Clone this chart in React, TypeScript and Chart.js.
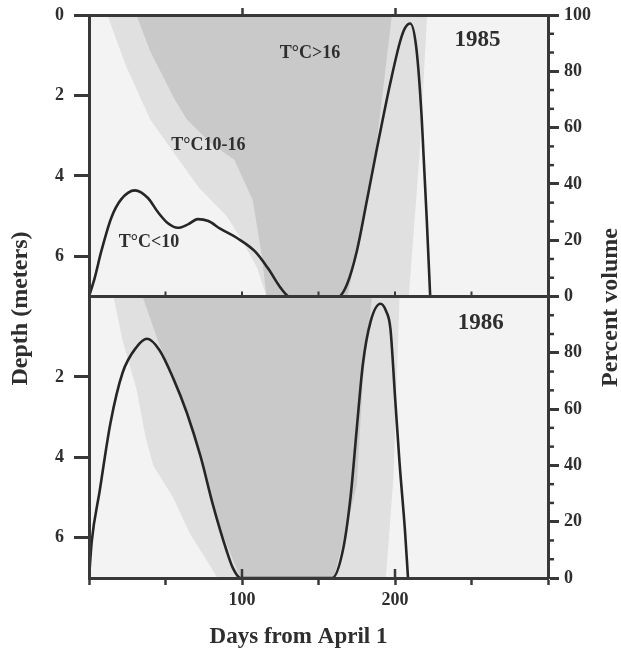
import React, { useEffect, useRef } from "react";
import { Chart, registerables } from "chart.js";

Chart.register(...registerables);

// ---------- axes ----------
const X_MIN = 0;
const X_MAX = 300;
const X_TICK_STEP = 50;
const X_LABELED_DAYS = [100, 200];
const X_TOP_TICK_DAYS = [100, 200];
const X_DIVIDER_TICK_DAYS = [50, 100, 150, 200, 250];
const X_BOTTOM_INNER_TICK_DAYS = [100, 200];
const DEPTH_MIN = 0;
const DEPTH_MAX = 7;
const DEPTH_TICKS_TOP = [0, 2, 4, 6];
const DEPTH_TICKS_BOTTOM = [2, 4, 6];
const PCT_MIN = 0;
const PCT_MAX = 100;
const PCT_MAJOR_STEP = 20;
const PCT_MINOR_PER_MAJOR = 3;
const PCT_HIDDEN_BOTTOM = [100];

// ---------- percent volume curves ----------
const days1985 = [0, 3.7, 8, 14.6, 21, 30, 38.5, 45, 51.6, 58, 65, 71, 78, 86, 97, 108.5, 117, 125.5, 131,
  163, 168.6, 175, 181.6, 188, 197, 203.3, 206.5, 210, 214, 217.4, 218.5, 220.7, 223];
const pct1985 = [0, 6.5, 16, 28, 34.5, 37.7, 35, 30, 26, 24.4, 25.7, 27.5, 26.8, 24, 20.7, 16, 10, 2.9, 0,
  0, 4.3, 16, 34, 52, 76, 90.5, 95.3, 97, 88, 64, 52, 28, 0];

const days1986 = [0, 1.8, 7, 14, 22, 31, 38, 46, 55, 64, 73, 81, 90, 94, 99,
  159, 166, 171, 175, 179, 184, 190.5, 194, 197, 200, 203, 206.5, 208.5];
const pct1986 = [0, 13, 31, 55, 73, 82, 85, 81, 71, 58.6, 43, 26, 9.6, 3.6, 0,
  0, 10, 29, 53, 76, 91, 97.4, 95, 88.6, 64.6, 40.7, 17, 0];

// ---------- temperature zone boundaries (day at given depth) ----------
// 1985
const cool85Depth = [0, 1.25, 2.6, 3.4, 4.3, 5.0, 5.6, 6.3, 7];
const cool85Day = [12, 24, 40, 55, 72, 90, 100, 110, 116];
const warm85Depth = [0, 0.9, 2.1, 2.6, 3.2, 3.6, 4.6, 6, 7];
const warm85Day = [31, 40, 56, 64, 80, 95, 107, 113, 116];
const warmEnd85Depth = [0, 3.5, 7];
const warmEnd85Day = [198, 187, 169];
const coolEnd85Depth = [0, 3.5, 7];
const coolEnd85Day = [221, 216, 209];
// 1986
const cool86Depth = [0, 1.1, 2.3, 3.5, 4.2, 5.0, 5.9, 6.5, 7];
const cool86Day = [16, 22, 31, 37, 42, 55, 66, 76, 84];
const warm86Depth = [0, 1.2, 2.3, 3.5, 4.0, 5.6, 7];
const warm86Day = [35, 46, 59, 68, 73, 84, 99];
const warmEnd86Depth = [0, 2.1, 4.7, 7];
const warmEnd86Day = [185, 179, 175, 160];
const coolEnd86Depth = [0, 4.5, 7];
const coolEnd86Day = [203, 199, 194];

// ---------- text labels ----------
const zoneLabelText = ["T°C>16", "T°C10-16", "T°C<10"];
const zoneLabelDay = [144.4, 78, 39.2];
const zoneLabelDepth = [0.95, 3.24, 5.66];
const yearLabelText = ["1985", "1986"];
const yearLabelDay = [254, 256];
const yearLabelDepth = [0.62, 0.65];

// ---------- styles ----------
const FRAME = "#383838";
const CURVE = "#262626";
const TEXT = "#2e2e2e";
const BASE = "#f3f3f3";
const LIGHT = "#e0e0e0";
const DARK = "#c9c9c9";
const SERIF = "'Liberation Serif', 'Times New Roman', serif";

const pts = (xs: number[], ys: number[]) => xs.map((x, i) => ({ x, y: ys[i] }));
const polygon = (leftDay: number[], leftDepth: number[], rightDay: number[], rightDepth: number[]) =>
  pts(leftDay, leftDepth).concat(pts(rightDay, rightDepth).reverse());

const curveStyle = {
  borderColor: CURVE,
  borderWidth: 2.6,
  pointRadius: 0,
  pointHoverRadius: 0,
  fill: false,
  cubicInterpolationMode: "monotone" as const,
  xAxisID: "x",
};
const zoneStyle = (color: string) => ({
  backgroundColor: color,
  borderColor: "rgba(0,0,0,0)",
  borderWidth: 1,
  pointRadius: 0,
  pointHoverRadius: 0,
  fill: "shape",
  tension: 0,
  xAxisID: "x",
});

const tickFont = { family: SERIF, size: 18, weight: "bold" as const };

const decorPlugin = {
  id: "decor",
  beforeDatasetsDraw(chart: any) {
    const { ctx, chartArea: a } = chart;
    ctx.save();
    ctx.fillStyle = BASE;
    ctx.fillRect(a.left, a.top, a.right - a.left, a.bottom - a.top);
    ctx.restore();
  },
  afterDraw(chart: any) {
    const { ctx } = chart;
    const s = chart.scales;
    ctx.save();
    ctx.strokeStyle = FRAME;
    ctx.lineCap = "butt";
    ctx.lineWidth = 2.5;
    // minor ticks on percent axes
    for (const id of ["yPT", "yPB"]) {
      const sc = s[id];
      const n = ((PCT_MAX - PCT_MIN) / PCT_MAJOR_STEP) * PCT_MINOR_PER_MAJOR;
      for (let k = 1; k < n; k++) {
        if (k % PCT_MINOR_PER_MAJOR === 0) continue;
        const y = sc.getPixelForValue(PCT_MIN + (k * PCT_MAJOR_STEP) / PCT_MINOR_PER_MAJOR);
        ctx.beginPath();
        ctx.moveTo(sc.left, y);
        ctx.lineTo(sc.left + 6, y);
        ctx.stroke();
      }
    }
    // panel divider line
    const xs = s.x;
    const yDT = s.yDT;
    ctx.lineWidth = 3;
    ctx.beginPath();
    ctx.moveTo(xs.left, yDT.bottom);
    ctx.lineTo(xs.right, yDT.bottom);
    ctx.stroke();
    // ticks on the panel divider and inner bottom ticks
    ctx.lineWidth = 2;
    for (const d of X_DIVIDER_TICK_DAYS) {
      const px = xs.getPixelForValue(d);
      ctx.beginPath();
      ctx.moveTo(px, yDT.bottom);
      ctx.lineTo(px, yDT.bottom - 5);
      ctx.stroke();
    }
    ctx.lineWidth = 2.5;
    for (const d of X_BOTTOM_INNER_TICK_DAYS) {
      const px = xs.getPixelForValue(d);
      ctx.beginPath();
      ctx.moveTo(px, xs.top);
      ctx.lineTo(px, xs.top - 9);
      ctx.stroke();
    }
    // zone labels (top panel)
    ctx.fillStyle = TEXT;
    ctx.textAlign = "center";
    ctx.textBaseline = "middle";
    ctx.font = `bold 18px ${SERIF}`;
    zoneLabelText.forEach((t, i) => {
      ctx.fillText(t, xs.getPixelForValue(zoneLabelDay[i]), yDT.getPixelForValue(zoneLabelDepth[i]));
    });
    // year labels
    ctx.font = `bold 23px ${SERIF}`;
    const panels = [s.yDT, s.yDB];
    yearLabelText.forEach((t, i) => {
      ctx.fillText(t, xs.getPixelForValue(yearLabelDay[i]), panels[i].getPixelForValue(yearLabelDepth[i]));
    });
    // axis titles
    const a = chart.chartArea;
    const midY = (a.top + a.bottom) / 2;
    ctx.font = `bold 24px ${SERIF}`;
    ctx.save();
    ctx.translate(21, midY + 12);
    ctx.rotate(-Math.PI / 2);
    ctx.fillText("Depth (meters)", 0, 0);
    ctx.restore();
    ctx.save();
    ctx.translate(611, midY + 11);
    ctx.rotate(-Math.PI / 2);
    ctx.fillText("Percent volume", 0, 0);
    ctx.restore();
    ctx.font = `bold 23px ${SERIF}`;
    ctx.fillText("Days from April 1", (a.left + a.right) / 2 - 20, 637);
    ctx.restore();
  },
};

const noPadV = (w: number) => (sc: any) => {
  sc.width = w;
  sc.paddingTop = 0;
  sc.paddingBottom = 0;
};
const noPadH = (h: number) => (sc: any) => {
  sc.height = h;
  sc.paddingLeft = 0;
  sc.paddingRight = 0;
};

export default function App() {
  const ref = useRef<HTMLCanvasElement>(null);
  useEffect(() => {
    const border = { display: true, color: FRAME, width: 3, z: 1 };
    const chart = new Chart(ref.current as HTMLCanvasElement, {
      type: "line",
      data: {
        datasets: [
          { label: "1985 percent volume", data: pts(days1985, pct1985), yAxisID: "yPT", order: 0, ...curveStyle } as any,
          { label: "1986 percent volume", data: pts(days1986, pct1986), yAxisID: "yPB", order: 0, ...curveStyle } as any,
          { label: "1985 T>16", data: polygon(warm85Day, warm85Depth, warmEnd85Day, warmEnd85Depth), yAxisID: "yDT", order: 1, ...zoneStyle(DARK) } as any,
          { label: "1985 T10-16", data: polygon(cool85Day, cool85Depth, coolEnd85Day, coolEnd85Depth), yAxisID: "yDT", order: 2, ...zoneStyle(LIGHT) } as any,
          { label: "1986 T>16", data: polygon(warm86Day, warm86Depth, warmEnd86Day, warmEnd86Depth), yAxisID: "yDB", order: 1, ...zoneStyle(DARK) } as any,
          { label: "1986 T10-16", data: polygon(cool86Day, cool86Depth, coolEnd86Day, coolEnd86Depth), yAxisID: "yDB", order: 2, ...zoneStyle(LIGHT) } as any,
        ],
      },
      options: {
        responsive: false,
        animation: false,
        events: [],
        layout: { padding: 0 },
        plugins: { legend: { display: false }, tooltip: { enabled: false }, title: { display: false } },
        scales: {
          x: {
            type: "linear",
            position: "bottom",
            min: X_MIN,
            max: X_MAX,
            afterFit: noPadH(73),
            border,
            grid: { drawOnChartArea: false, drawTicks: true, tickLength: 7, tickWidth: 2.5, tickColor: FRAME, z: 1 },
            ticks: {
              stepSize: X_TICK_STEP,
              autoSkip: false,
              maxRotation: 0,
              padding: 5,
              color: TEXT,
              font: tickFont,
              callback: (v: any) => (X_LABELED_DAYS.includes(Number(v)) ? String(v) : ""),
            },
          },
          xTop: {
            type: "linear",
            position: "top",
            min: X_MIN,
            max: X_MAX,
            afterBuildTicks: (sc: any) => { sc.ticks = X_TOP_TICK_DAYS.map((v) => ({ value: v })); },
            afterFit: noPadH(15),
            border,
            grid: { drawOnChartArea: false, drawTicks: true, tickLength: 7, tickWidth: 2.5, tickColor: FRAME, z: 1 },
            ticks: { display: false },
          },
          yDT: {
            type: "linear",
            position: "left",
            stack: "depth",
            stackWeight: 1,
            weight: 1,
            reverse: true,
            min: DEPTH_MIN,
            max: DEPTH_MAX,
            afterBuildTicks: (sc: any) => { sc.ticks = DEPTH_TICKS_TOP.map((v) => ({ value: v })); },
            afterFit: noPadV(89),
            border,
            grid: { drawOnChartArea: false, drawTicks: true, tickLength: 15, tickWidth: 3, tickColor: FRAME, z: 1 },
            ticks: { padding: 10, color: TEXT, font: tickFont },
          },
          yDB: {
            type: "linear",
            position: "left",
            stack: "depth",
            stackWeight: 1,
            weight: 0,
            reverse: true,
            min: DEPTH_MIN,
            max: DEPTH_MAX,
            afterBuildTicks: (sc: any) => { sc.ticks = DEPTH_TICKS_BOTTOM.map((v) => ({ value: v })); },
            afterFit: noPadV(89),
            border,
            grid: { drawOnChartArea: false, drawTicks: true, tickLength: 15, tickWidth: 3, tickColor: FRAME, z: 1 },
            ticks: { padding: 10, color: TEXT, font: tickFont },
          },
          yPT: {
            type: "linear",
            position: "right",
            stack: "pct",
            stackWeight: 1,
            weight: 0,
            min: PCT_MIN,
            max: PCT_MAX,
            afterFit: noPadV(73),
            border,
            grid: { drawOnChartArea: false, drawTicks: true, tickLength: 11, tickWidth: 3, tickColor: FRAME, z: 1 },
            ticks: { stepSize: PCT_MAJOR_STEP, padding: 5, color: TEXT, font: tickFont },
          },
          yPB: {
            type: "linear",
            position: "right",
            stack: "pct",
            stackWeight: 1,
            weight: 1,
            min: PCT_MIN,
            max: PCT_MAX,
            afterFit: noPadV(73),
            border,
            grid: { drawOnChartArea: false, drawTicks: true, tickLength: 11, tickWidth: 3, tickColor: FRAME, z: 1 },
            ticks: {
              stepSize: PCT_MAJOR_STEP,
              padding: 5,
              color: TEXT,
              font: tickFont,
              callback: (v: any) => (PCT_HIDDEN_BOTTOM.includes(Number(v)) ? "" : String(v)),
            },
          },
        },
      } as any,
      plugins: [decorPlugin],
    });
    return () => chart.destroy();
  }, []);
  return (
    <div style={{ position: "absolute", left: 0, top: 0, width: 621, height: 651, background: "#fff" }}>
      <canvas ref={ref} width={621} height={651} style={{ display: "block" }} />
    </div>
  );
}
